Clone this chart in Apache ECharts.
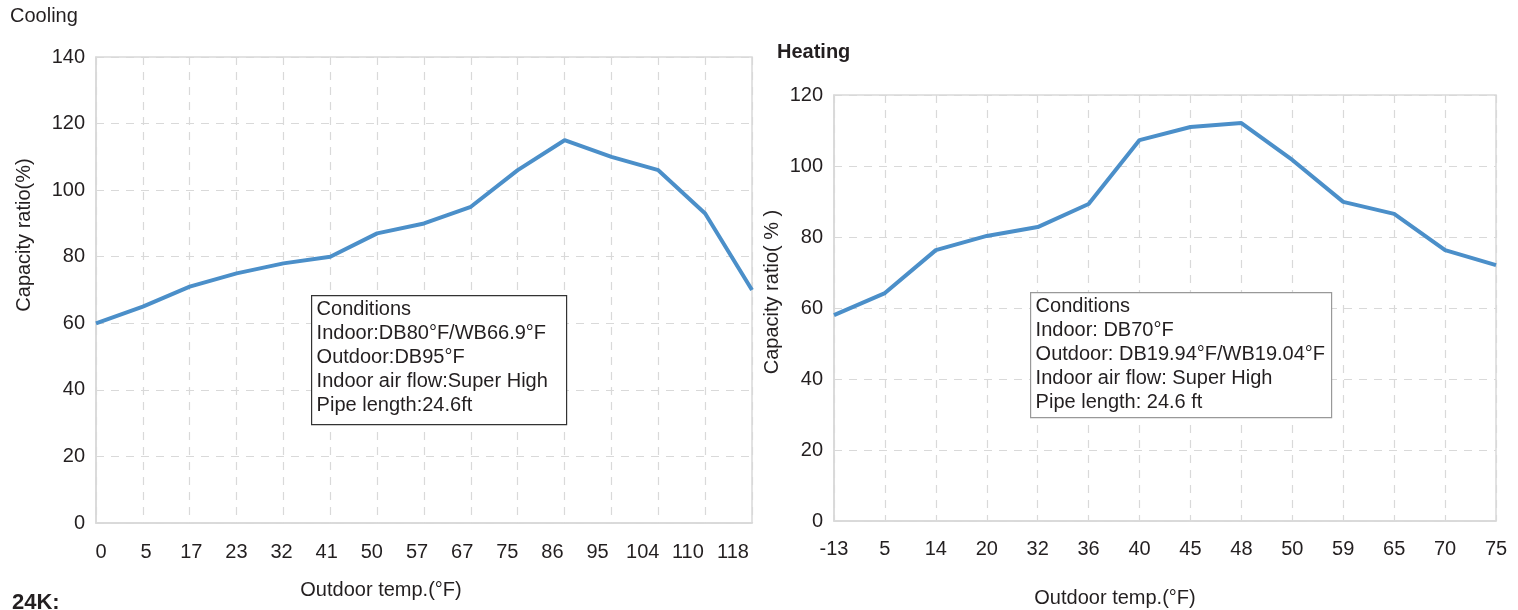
<!DOCTYPE html>
<html>
<head>
<meta charset="utf-8">
<title>Capacity ratio</title>
<script src="https://cdn.jsdelivr.net/npm/echarts@6/dist/echarts.min.js"></script>
<style>
  html, body { margin: 0; padding: 0; background: #fff; }
  #main { width: 1518px; height: 610px; }
</style>
</head>
<body>
<div id="main"></div>
<script>
// cooling data
var coolTemps = ['0', '5', '17', '23', '32', '41', '50', '57', '67', '75', '86', '95', '104', '110', '118'];
var coolRatio = [60, 65, 71, 75, 78, 80, 87, 90, 95, 106, 115, 110, 106, 93, 70];
var coolTicks = [0, 140, 20];   // min, max, interval

// heating data
var heatTemps = ['-13', '5', '14', '20', '32', '36', '40', '45', '48', '50', '59', '65', '70', '75'];
var heatRatio = [58, 64.2, 76.3, 80.3, 82.8, 89.3, 107.3, 111, 112.1, 101.7, 89.9, 86.5, 76.3, 72.1];
var heatTicks = [0, 120, 20];

var coolNote = ['Conditions', 'Indoor:DB80°F/WB66.9°F', 'Outdoor:DB95°F', 'Indoor air flow:Super High', 'Pipe length:24.6ft'];
var heatNote = ['Conditions', 'Indoor: DB70°F', 'Outdoor: DB19.94°F/WB19.04°F', 'Indoor air flow: Super High', 'Pipe length: 24.6 ft'];

var FONT = 'Liberation Sans, Arial, sans-serif';
var TXT = '#231f20';
var LINE = '#4b8fc9';
var GRIDC = '#d9d9d9';
var FS = 20;

function xAx(idx, cats, showLabel, margin) {
    return {
        type: 'category', gridIndex: idx, data: cats, boundaryGap: false,
        axisLine: { lineStyle: { color: GRIDC, width: 1.5 } },
        axisTick: { show: false },
        axisLabel: { show: showLabel, color: TXT, fontSize: FS, fontFamily: FONT, margin: margin || 18, interval: 0 },
        splitLine: { show: true, lineStyle: { color: GRIDC, type: [8, 7], width: 1.2 } }
    };
}
function yAx(idx, t) {
    return {
        type: 'value', gridIndex: idx, min: t[0], max: t[1], interval: t[2],
        axisLine: { show: true, lineStyle: { color: GRIDC, width: 1.5 } },
        axisTick: { show: false },
        axisLabel: { color: TXT, fontSize: FS, fontFamily: FONT, margin: 11 },
        splitLine: { show: true, lineStyle: { color: GRIDC, type: [8, 7], width: 1.2 } }
    };
}
function note(lines, x, y, w, h, border) {
    return {
        type: 'group', left: x, top: y, z: 100,
        children: [
            { type: 'rect', z: 100, shape: { x: 0, y: 0, width: w, height: h },
              style: { fill: '#fff', stroke: border, lineWidth: 1.2 } },
            { type: 'text', z: 101, x: 5, y: 2,
              style: { text: lines.join('\n'), fill: TXT, fontSize: 20, fontFamily: FONT, lineHeight: 24 } }
        ]
    };
}
function label(text, x, y, rot) {
    return { type: 'text', x: x, y: y, rotation: rot || 0,
             style: { text: text, fill: TXT, fontSize: FS, fontFamily: FONT, align: 'center', verticalAlign: 'middle' } };
}

var chart = echarts.init(document.getElementById('main'));
var option = {
    animation: false,
    grid: [
        { left: 96, top: 57, width: 656, height: 466, show: true, borderColor: GRIDC, borderWidth: 1.5, outerBoundsMode: 'none' },
        { left: 834, top: 95, width: 662, height: 426, show: true, borderColor: GRIDC, borderWidth: 1.5, outerBoundsMode: 'none' },
        // label row for cooling axis (labels sit a bit inside the plot ends)
        { left: 101, top: 57, width: 632, height: 466, show: false, outerBoundsMode: 'none' }
    ],
    xAxis: [
        xAx(0, coolTemps, false),
        xAx(1, heatTemps, true, 18),
        { type: 'category', gridIndex: 2, data: coolTemps, boundaryGap: false,
          axisLine: { show: false }, axisTick: { show: false }, splitLine: { show: false },
          axisLabel: { color: TXT, fontSize: FS, fontFamily: FONT, margin: 19, interval: 0 } }
    ],
    yAxis: [
        yAx(0, coolTicks),
        yAx(1, heatTicks),
        { type: 'value', gridIndex: 2, show: false, min: coolTicks[0], max: coolTicks[1] }
    ],
    series: [
        { type: 'line', xAxisIndex: 0, yAxisIndex: 0, data: coolRatio, symbol: 'none',
          lineStyle: { color: LINE, width: 4 } },
        { type: 'line', xAxisIndex: 1, yAxisIndex: 1, data: heatRatio, symbol: 'none',
          lineStyle: { color: LINE, width: 4 } }
    ],
    graphic: [
        { type: 'text', left: 10, top: 6, style: { text: 'Cooling', fill: TXT, fontSize: FS, fontFamily: FONT } },
        { type: 'text', left: 777, top: 42, style: { text: 'Heating', fill: TXT, fontSize: FS, fontWeight: 'bold', fontFamily: FONT } },
        { type: 'text', left: 12, top: 592, style: { text: '24K:', fill: TXT, fontSize: 22, fontWeight: 'bold', fontFamily: FONT } },
        label('Capacity ratio(%)', 24, 235, Math.PI / 2),
        label('Capacity ratio( % )', 772, 292, Math.PI / 2),
        label('Outdoor temp.(°F)', 381, 590),
        label('Outdoor temp.(°F)', 1115, 598),
        note(coolNote, 311, 295, 255, 129, '#333'),
        note(heatNote, 1030, 292, 301, 125, '#999')
    ]
};
chart.setOption(option);
</script>
</body>
</html>
